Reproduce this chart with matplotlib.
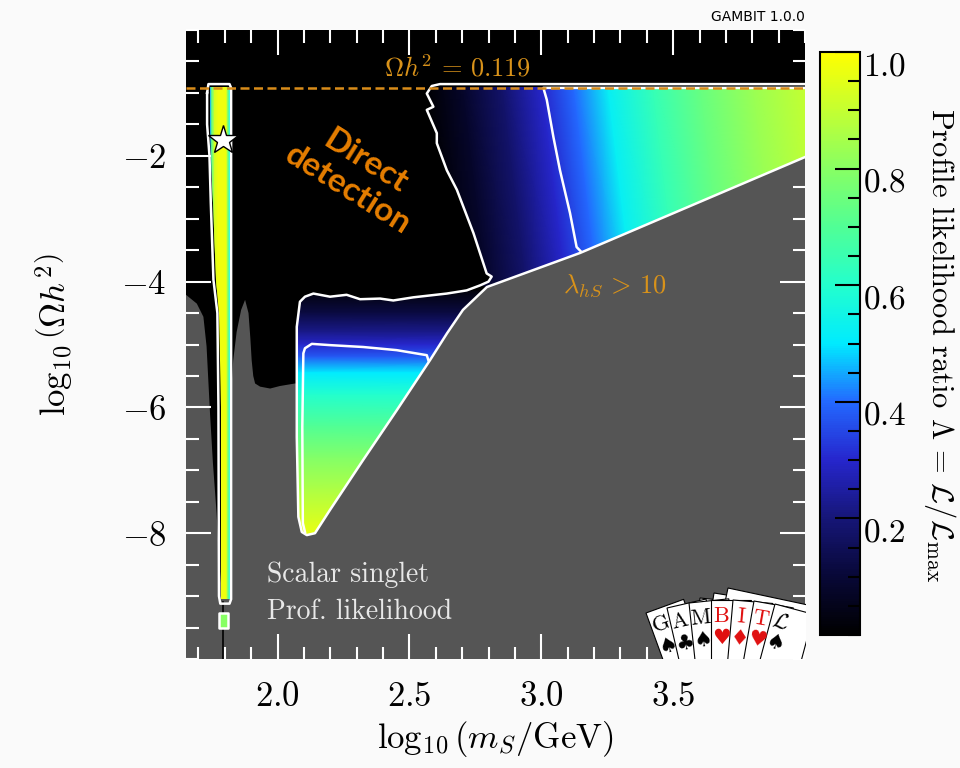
import numpy as np
import matplotlib
matplotlib.use('Agg')
import matplotlib.pyplot as plt
from matplotlib.colors import LinearSegmentedColormap, Normalize
from matplotlib.patches import Polygon, Rectangle
from matplotlib.ticker import MultipleLocator
import matplotlib.cm as cm

plt.rcParams['mathtext.fontset'] = 'cm'
plt.rcParams['font.family'] = ['cmr10', 'DejaVu Sans']
plt.rcParams['axes.unicode_minus'] = False

# axis ranges and ticks
x_lim = (1.653, 4.0)
y_lim = (-10.0, 0.0)
x_ticks = [2.0, 2.5, 3.0, 3.5]
x_ticklabels = [r'$2.0$', r'$2.5$', r'$3.0$', r'$3.5$']
y_ticks = [-8, -6, -4, -2]
y_ticklabels = [r'$-8$', r'$-6$', r'$-4$', r'$-2$']
cb_ticks = [0.2, 0.4, 0.6, 0.8, 1.0]
cb_ticklabels = [r'$0.2$', r'$0.4$', r'$0.6$', r'$0.8$', r'$1.0$']
omega_planck = 0.119

# colour scale of the profile likelihood ratio
cmap_lam = [0.0, 0.1, 0.2, 0.3, 0.4, 0.5, 0.6, 0.7, 0.8, 0.9, 1.0]
cmap_rgb = [(0, 0, 0), (8, 8, 55), (22, 22, 120), (38, 38, 205), (35, 105, 255),
            (0, 235, 255), (35, 255, 205), (80, 255, 150), (135, 255, 100),
            (195, 255, 50), (255, 255, 0)]

# high-mass region: Lambda across log10(m_S)
upper_x = [2.55, 2.70, 2.85, 3.00, 3.12, 3.25, 3.42, 3.60, 3.80, 4.00]
upper_lam = [0.0, 0.08, 0.18, 0.30, 0.40, 0.52, 0.64, 0.74, 0.83, 0.90]
upper_outline = [(2.616, -0.90), (4.0, -0.90), (4.0, -2.02), (3.147, -3.545),
                 (2.794, -4.086), (2.768, -4.06), (2.800, -4.00), (2.812, -3.92),
                 (2.793, -3.87), (2.743, -3.23), (2.680, -2.54), (2.642, -2.23),
                 (2.604, -1.80), (2.604, -1.64), (2.566, -1.27), (2.591, -1.22),
                 (2.566, -1.01), (2.585, -0.92)]

# intermediate-mass triangle: Lambda down log10(Omega h^2)
tri_y = [-4.15, -4.5, -4.8, -5.0, -5.2, -5.45, -5.8, -6.3, -6.8, -7.3, -7.8, -8.1]
tri_lam = [0.02, 0.12, 0.22, 0.30, 0.38, 0.50, 0.60, 0.70, 0.79, 0.86, 0.93, 0.97]
tri_outline = [(2.104, -4.24), (2.136, -4.19), (2.199, -4.24), (2.262, -4.21),
               (2.313, -4.28), (2.389, -4.27), (2.439, -4.30), (2.515, -4.25),
               (2.642, -4.19), (2.717, -4.14), (2.768, -4.06), (2.794, -4.086),
               (2.703, -4.45), (2.643, -4.82), (2.578, -5.25), (2.453, -6.04),
               (2.324, -6.84), (2.199, -7.63), (2.142, -8.00), (2.111, -8.03),
               (2.092, -7.98), (2.079, -7.74), (2.073, -6.47), (2.073, -4.72),
               (2.085, -4.32)]

# Higgs resonance strip: Lambda across log10(m_S)
strip_x = [1.745, 1.752, 1.762, 1.775, 1.805, 1.812, 1.818]
strip_lam = [0.45, 0.75, 0.93, 0.97, 0.97, 0.80, 0.55]
strip_outline = [(1.745, -0.90), (1.818, -0.90), (1.818, -9.05), (1.786, -9.05),
                 (1.784, -6.0), (1.780, -4.5), (1.765, -3.97), (1.755, -2.75),
                 (1.749, -2.0), (1.745, -1.5)]
blob_outline = [(1.778, -9.27), (1.814, -9.27), (1.814, -9.50), (1.778, -9.50)]
blob_lam = 0.8

# excluded region (lambda_hS > 10 and below the scan)
excluded_outline = [(1.653, -4.21), (1.694, -4.35), (1.719, -4.56), (1.731, -5.03),
                    (1.744, -6.09), (1.755, -6.88), (1.769, -7.68), (1.779, -8.47),
                    (1.790, -9.0), (1.820, -9.0), (1.820, -6.04), (1.832, -5.25),
                    (1.845, -4.80), (1.862, -4.45), (1.877, -4.29), (1.890, -4.50),
                    (1.897, -4.90), (1.902, -5.25), (1.908, -5.50), (1.915, -5.62),
                    (1.934, -5.67), (1.972, -5.70), (2.009, -5.66), (2.066, -5.62),
                    (2.110, -5.62), (2.110, -7.70), (2.200, -7.55), (2.324, -6.84),
                    (2.453, -6.04), (2.578, -5.25), (2.643, -4.82), (2.703, -4.45),
                    (2.794, -4.086), (3.147, -3.545), (4.0, -2.02), (4.0, -10.0),
                    (1.653, -10.0)]
channel_x = [1.795, 1.795]
channel_y = [-9.1, -10.0]

# confidence contours (2 sigma and 1 sigma)
outer_contour = [(4.0, -0.86), (2.616, -0.86), (2.585, -0.89), (2.566, -1.01),
                 (2.591, -1.22), (2.566, -1.27), (2.604, -1.64), (2.604, -1.80),
                 (2.642, -2.23), (2.680, -2.54), (2.743, -3.23), (2.793, -3.87),
                 (2.812, -3.92), (2.800, -4.00), (2.768, -4.06), (2.717, -4.14),
                 (2.642, -4.19), (2.515, -4.25), (2.439, -4.30), (2.389, -4.27),
                 (2.313, -4.28), (2.262, -4.21), (2.199, -4.24), (2.136, -4.19),
                 (2.104, -4.24), (2.085, -4.32), (2.073, -4.72), (2.073, -6.47),
                 (2.079, -7.74), (2.092, -7.98), (2.111, -8.03), (2.142, -8.00),
                 (2.199, -7.63), (2.324, -6.84), (2.453, -6.04), (2.578, -5.25),
                 (2.643, -4.82), (2.703, -4.45), (2.794, -4.086), (3.147, -3.545),
                 (4.0, -2.02)]
strip_contour = [(1.733, -1.0), (1.738, -0.86), (1.818, -0.86), (1.824, -0.92),
                 (1.824, -9.05), (1.818, -9.12), (1.783, -9.12), (1.778, -9.0),
                 (1.776, -6.0), (1.772, -4.5), (1.757, -3.97), (1.747, -2.75),
                 (1.742, -2.0), (1.733, -1.5), (1.733, -1.0)]
inner_upper = [(4.0, -0.92), (3.008, -0.92), (3.021, -1.11), (3.046, -1.70),
               (3.071, -2.23), (3.109, -2.91), (3.134, -3.45), (3.150, -3.52)]
inner_tri = [(2.572, -5.25), (2.566, -5.17), (2.452, -5.09), (2.325, -5.04),
             (2.199, -5.01), (2.130, -4.99), (2.104, -5.06), (2.098, -5.14),
             (2.094, -6.31), (2.096, -7.84), (2.104, -7.98)]

best_fit = (1.794, -1.75)

# GAMBIT logo cards: letter, suit, colour
card_letters = [r'$\mathrm{G}$', r'$\mathrm{A}$', r'$\mathrm{M}$', r'$\mathrm{B}$',
                r'$\mathrm{I}$', r'$\mathrm{T}$', r'$\mathcal{L}$']
card_suits = ['\u2660', '\u2663', '\u2660', '\u2665', '\u2666', '\u2665', '\u2660']
card_cols = ['black', 'black', 'black', '#e01010', '#e01010', '#e01010', 'black']

cmap = LinearSegmentedColormap.from_list(
    'gambit', [(v, tuple(c / 255 for c in rgb)) for v, rgb in zip(cmap_lam, cmap_rgb)])
norm = Normalize(0, 1)

fig = plt.figure(figsize=(9.6, 7.68), dpi=100, facecolor='#fafafa')
ax = fig.add_axes([186 / 960, 1 - 659 / 768, 619 / 960, 629 / 768])
ax.set_facecolor('black')
ax.set_xlim(*x_lim)
ax.set_ylim(*y_lim)


def clip_to(artist, outline):
    p = Polygon(outline, closed=True, transform=ax.transData, fc='none', ec='none')
    ax.add_patch(p)
    artist.set_clip_path(p)


ax.add_patch(Polygon(excluded_outline, closed=True, fc='#555555', ec='none', zorder=1))
ax.plot(channel_x, channel_y, color='black', lw=1.2, zorder=1.5)

# high-mass region, iso-lines lean slightly to the right going down
n = len(upper_x)
X = np.vstack([upper_x, np.add(upper_x, 0.10)])
Y = np.vstack([np.full(n, -0.8), np.full(n, -4.3)])
m = ax.pcolormesh(X, Y, np.vstack([upper_lam, upper_lam]), cmap=cmap, norm=norm,
                  shading='gouraud', zorder=2)
clip_to(m, upper_outline)

X, Y = np.meshgrid([2.05, 2.85], tri_y)
m = ax.pcolormesh(X, Y, np.column_stack([tri_lam, tri_lam]), cmap=cmap, norm=norm,
                  shading='gouraud', zorder=2)
clip_to(m, tri_outline)

X, Y = np.meshgrid(strip_x, [-0.8, -9.2])
m = ax.pcolormesh(X, Y, np.vstack([strip_lam, strip_lam]), cmap=cmap, norm=norm,
                  shading='gouraud', zorder=2)
clip_to(m, strip_outline)
ax.add_patch(Polygon(blob_outline, closed=True, fc=cmap(blob_lam), ec='white',
                     lw=1.8, joinstyle='round', zorder=3))

for line in [outer_contour, strip_contour, inner_upper, inner_tri]:
    xs, ys = zip(*line)
    ax.plot(xs, ys, color='white', lw=1.8, solid_joinstyle='round', zorder=3)

ax.axhline(np.log10(omega_planck), color='#d98c1a', lw=1.8, dashes=(3.6, 1.8), zorder=4)
ax.plot(*best_fit, marker='*', ms=22, mfc='white', mec='black', mew=1, zorder=6)

orange = '#d8921a'
ax.text(2.684, -0.60, r'$\Omega h^2 \,=\, 0.119$', color=orange, fontsize=19,
        ha='center', va='center', zorder=5)
ax.text(3.28, -4.06, r'$\lambda_{hS} \,>\, 10$', color=orange, fontsize=19,
        ha='center', va='center', zorder=5)
ax.text(2.301, -2.31, 'Direct\ndetection', color='#e67e00', fontsize=24,
        fontweight='bold', family=['Lato', 'DejaVu Sans'], rotation=-32,
        ha='center', va='center', multialignment='center', linespacing=1.15,
        rotation_mode='anchor', zorder=5)
ax.text(1.96, -8.66, 'Scalar singlet', color='#e8e8e8', fontsize=20,
        ha='left', va='center', zorder=5)
ax.text(1.96, -9.25, 'Prof. likelihood', color='#e8e8e8', fontsize=20,
        ha='left', va='center', zorder=5)

ax.set_xticks(x_ticks, labels=x_ticklabels)
ax.set_yticks(y_ticks, labels=y_ticklabels)
ax.xaxis.set_minor_locator(MultipleLocator(0.1))
ax.yaxis.set_minor_locator(MultipleLocator(0.5))
ax.tick_params(which='both', direction='in', color='white', width=1.5,
               top=True, right=True, labelsize=25, zorder=7)
ax.tick_params(which='major', length=18)
ax.tick_params(which='minor', length=9)
ax.tick_params(axis='x', pad=16)
ax.tick_params(axis='y', pad=14)
for s in ax.spines.values():
    s.set_visible(False)
ax.set_xlabel(r'$\log_{10}(m_S/\mathrm{GeV})$', fontsize=25)
ax.set_ylabel(r'$\log_{10}\left(\Omega h^2\right)$', fontsize=25)
ax.xaxis.set_label_coords(0.499, -0.095)
ax.yaxis.set_label_coords(-0.18, 0.515)

# colour bar
cax = fig.add_axes([820 / 960, 1 - 635 / 768, 40 / 960, 583 / 768])
cb = fig.colorbar(cm.ScalarMappable(norm=norm, cmap=cmap), cax=cax)
cb.set_ticks(cb_ticks, labels=cb_ticklabels)
cax.yaxis.set_minor_locator(MultipleLocator(0.05))
cax.tick_params(which='both', direction='in', color='black', width=1.5,
                labelsize=24, pad=2)
cax.tick_params(which='major', length=18)
cax.tick_params(which='minor', length=9)
cb.outline.set_linewidth(1.5)
for lab in cax.get_yticklabels():
    lab.set_verticalalignment('top')
fig.text(940 / 960, 1 - 345 / 768,
         r'Profile likelihood ratio $\Lambda \,=\, \mathcal{L}/\mathcal{L}_\mathrm{max}$',
         rotation=270, fontsize=22, ha='center', va='center')

fig.text(805 / 960, 1 - 17 / 768, 'GAMBIT 1.0.0', fontsize=10, ha='right',
         va='center', family=['DejaVu Sans'])

# GAMBIT card logo, drawn in pixel units of the figure
lax = fig.add_axes([635 / 960, 1 - 659 / 768, 171 / 960, 91 / 768])
lax.set_xlim(635, 806)
lax.set_ylim(768 - 659, 768 - 568)
lax.axis('off')
back = [(700, 598, -6), (714, 593, -9), (728, 588, -12)]
front = [(646, 613, 20), (667, 608, 13), (689, 603, 6), (711, 600, 0),
         (733, 600, -5), (754, 601, -10), (775, 604, -15)]
for tx, ty, ang in back:
    a = np.radians(ang)
    u = np.array([-np.sin(a), np.cos(a)])
    ll = np.array([tx, 768 - ty]) - 140 * u
    lax.add_patch(Rectangle(ll, 95, 140, angle=ang, fc='white', ec='black', lw=0.8))
for (tx, ty, ang), letter, suit, col in zip(front, card_letters, card_suits, card_cols):
    a = np.radians(ang)
    r = np.array([np.cos(a), np.sin(a)])
    u = np.array([-np.sin(a), np.cos(a)])
    tl = np.array([tx, 768 - ty])
    lax.add_patch(Rectangle(tl - 140 * u, 40, 140, angle=ang, fc='white', ec='black', lw=0.8))
    p = tl + 10 * r - 16 * u
    lax.text(p[0], p[1], letter, rotation=ang, color=col, fontsize=16,
             ha='center', va='center', rotation_mode='anchor')
    q = tl + 10 * r - 38 * u
    lax.text(q[0], q[1], suit, rotation=ang, color=col, fontsize=15,
             ha='center', va='center', rotation_mode='anchor', family=['DejaVu Sans'])

fig.savefig('out.png', dpi=100, facecolor=fig.get_facecolor())
